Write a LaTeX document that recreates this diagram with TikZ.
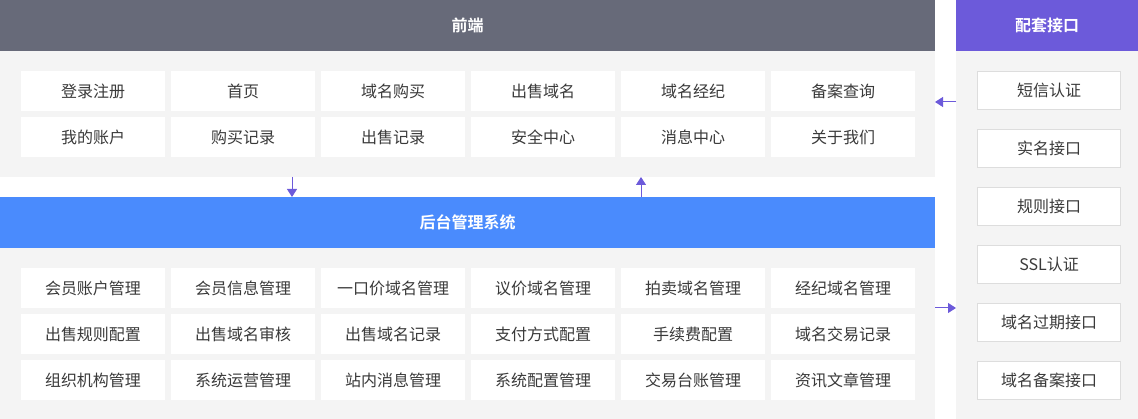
\documentclass[tikz,border=0pt]{standalone}
\usepackage{fontspec}
\setmainfont{Noto Sans CJK SC}[BoldFont=Noto Sans CJK SC Bold]
\usepackage{xcolor}
\usepackage{tikz}
\usetikzlibrary{arrows.meta, positioning}
\definecolor{hdgray}{HTML}{676A79}
\definecolor{beblue}{HTML}{4A8BFD}
\definecolor{ifpurple}{HTML}{6C5ADA}
\definecolor{panelgray}{HTML}{F4F4F4}
\definecolor{txtgray}{HTML}{3A3A3A}
\definecolor{cellline}{HTML}{DDDDDD}
\tikzstyle{head} = [rectangle, text=white, font=\fontsize{16}{19}\selectfont\bfseries, minimum width=935pt, minimum height=51pt, outer sep=0pt, inner sep=0pt]
\tikzstyle{panel} = [rectangle, fill=panelgray, minimum width=935pt, outer sep=0pt, inner sep=0pt]
\tikzstyle{cell} = [rectangle, fill=white, text=txtgray, font=\fontsize{16}{19}\selectfont, minimum width=144pt, minimum height=40pt, outer sep=0pt, inner sep=0pt]
\tikzstyle{api} = [cell, draw=cellline, line width=1pt, minimum width=143pt, minimum height=38pt]
\tikzstyle{line} = [draw=ifpurple, line width=1pt, -{Triangle[width=10pt,length=8pt]}]

\begin{document}
\begin{tikzpicture}[x=1pt, y=1pt]
  \useasboundingbox (0,0) rectangle (1138,-419);
  % panels
  \node (fe) [head, fill=hdgray, anchor=north west] at (0,0) {前端};
  \node (febody) [panel, minimum height=126pt, below=0pt of fe] {};
  \node (be) [head, fill=beblue, below=20pt of febody] {后台管理系统};
  \node (bebody) [panel, minimum height=171pt, below=0pt of be] {};
  \node (if) [head, fill=ifpurple, minimum width=182pt, anchor=north west] at (956,0) {配套接口};
  \node (ifbody) [panel, minimum width=182pt, minimum height=368pt, below=0pt of if] {};
  % front
  \node (f1) [cell, anchor=north west] at (21,-71) {登录注册};
  \node (f2) [cell, right=6pt of f1] {首页};
  \node (f3) [cell, right=6pt of f2] {域名购买};
  \node (f4) [cell, right=6pt of f3] {出售域名};
  \node (f5) [cell, right=6pt of f4] {域名经纪};
  \node (f6) [cell, right=6pt of f5] {备案查询};
  \node (f7) [cell, below=6pt of f1] {我的账户};
  \node (f8) [cell, right=6pt of f7] {购买记录};
  \node (f9) [cell, right=6pt of f8] {出售记录};
  \node (f10) [cell, right=6pt of f9] {安全中心};
  \node (f11) [cell, right=6pt of f10] {消息中心};
  \node (f12) [cell, right=6pt of f11] {关于我们};
  % back
  \node (b1) [cell, anchor=north west] at (21,-268) {会员账户管理};
  \node (b2) [cell, right=6pt of b1] {会员信息管理};
  \node (b3) [cell, right=6pt of b2] {一口价域名管理};
  \node (b4) [cell, right=6pt of b3] {议价域名管理};
  \node (b5) [cell, right=6pt of b4] {拍卖域名管理};
  \node (b6) [cell, right=6pt of b5] {经纪域名管理};
  \node (b7) [cell, below=6pt of b1] {出售规则配置};
  \node (b8) [cell, right=6pt of b7] {出售域名审核};
  \node (b9) [cell, right=6pt of b8] {出售域名记录};
  \node (b10) [cell, right=6pt of b9] {支付方式配置};
  \node (b11) [cell, right=6pt of b10] {手续费配置};
  \node (b12) [cell, right=6pt of b11] {域名交易记录};
  \node (b13) [cell, below=6pt of b7] {组织机构管理};
  \node (b14) [cell, right=6pt of b13] {系统运营管理};
  \node (b15) [cell, right=6pt of b14] {站内消息管理};
  \node (b16) [cell, right=6pt of b15] {系统配置管理};
  \node (b17) [cell, right=6pt of b16] {交易台账管理};
  \node (b18) [cell, right=6pt of b17] {资讯文章管理};
  % interfaces
  \node (s1) [api, anchor=north west] at (977.5,-71.5) {短信认证};
  \node (s2) [api, below=20pt of s1] {实名接口};
  \node (s3) [api, below=20pt of s2] {规则接口};
  \node (s4) [api, below=20pt of s3] {SSL认证};
  \node (s5) [api, below=20pt of s4] {域名过期接口};
  \node (s6) [api, below=20pt of s5] {域名备案接口};
  % arrows
  \draw [line] ([xshift=292pt]febody.south west) -- ([xshift=292pt]be.north west);
  \draw [line] ([xshift=641pt]be.north west) -- ([xshift=641pt]febody.south west);
  \draw [line] ([yshift=-51pt]ifbody.north west) -- ([yshift=-51pt]febody.north east);
  \draw [line] ([yshift=-60pt]bebody.north east) -- ([yshift=-257pt]ifbody.north west);
\end{tikzpicture}
\end{document}
